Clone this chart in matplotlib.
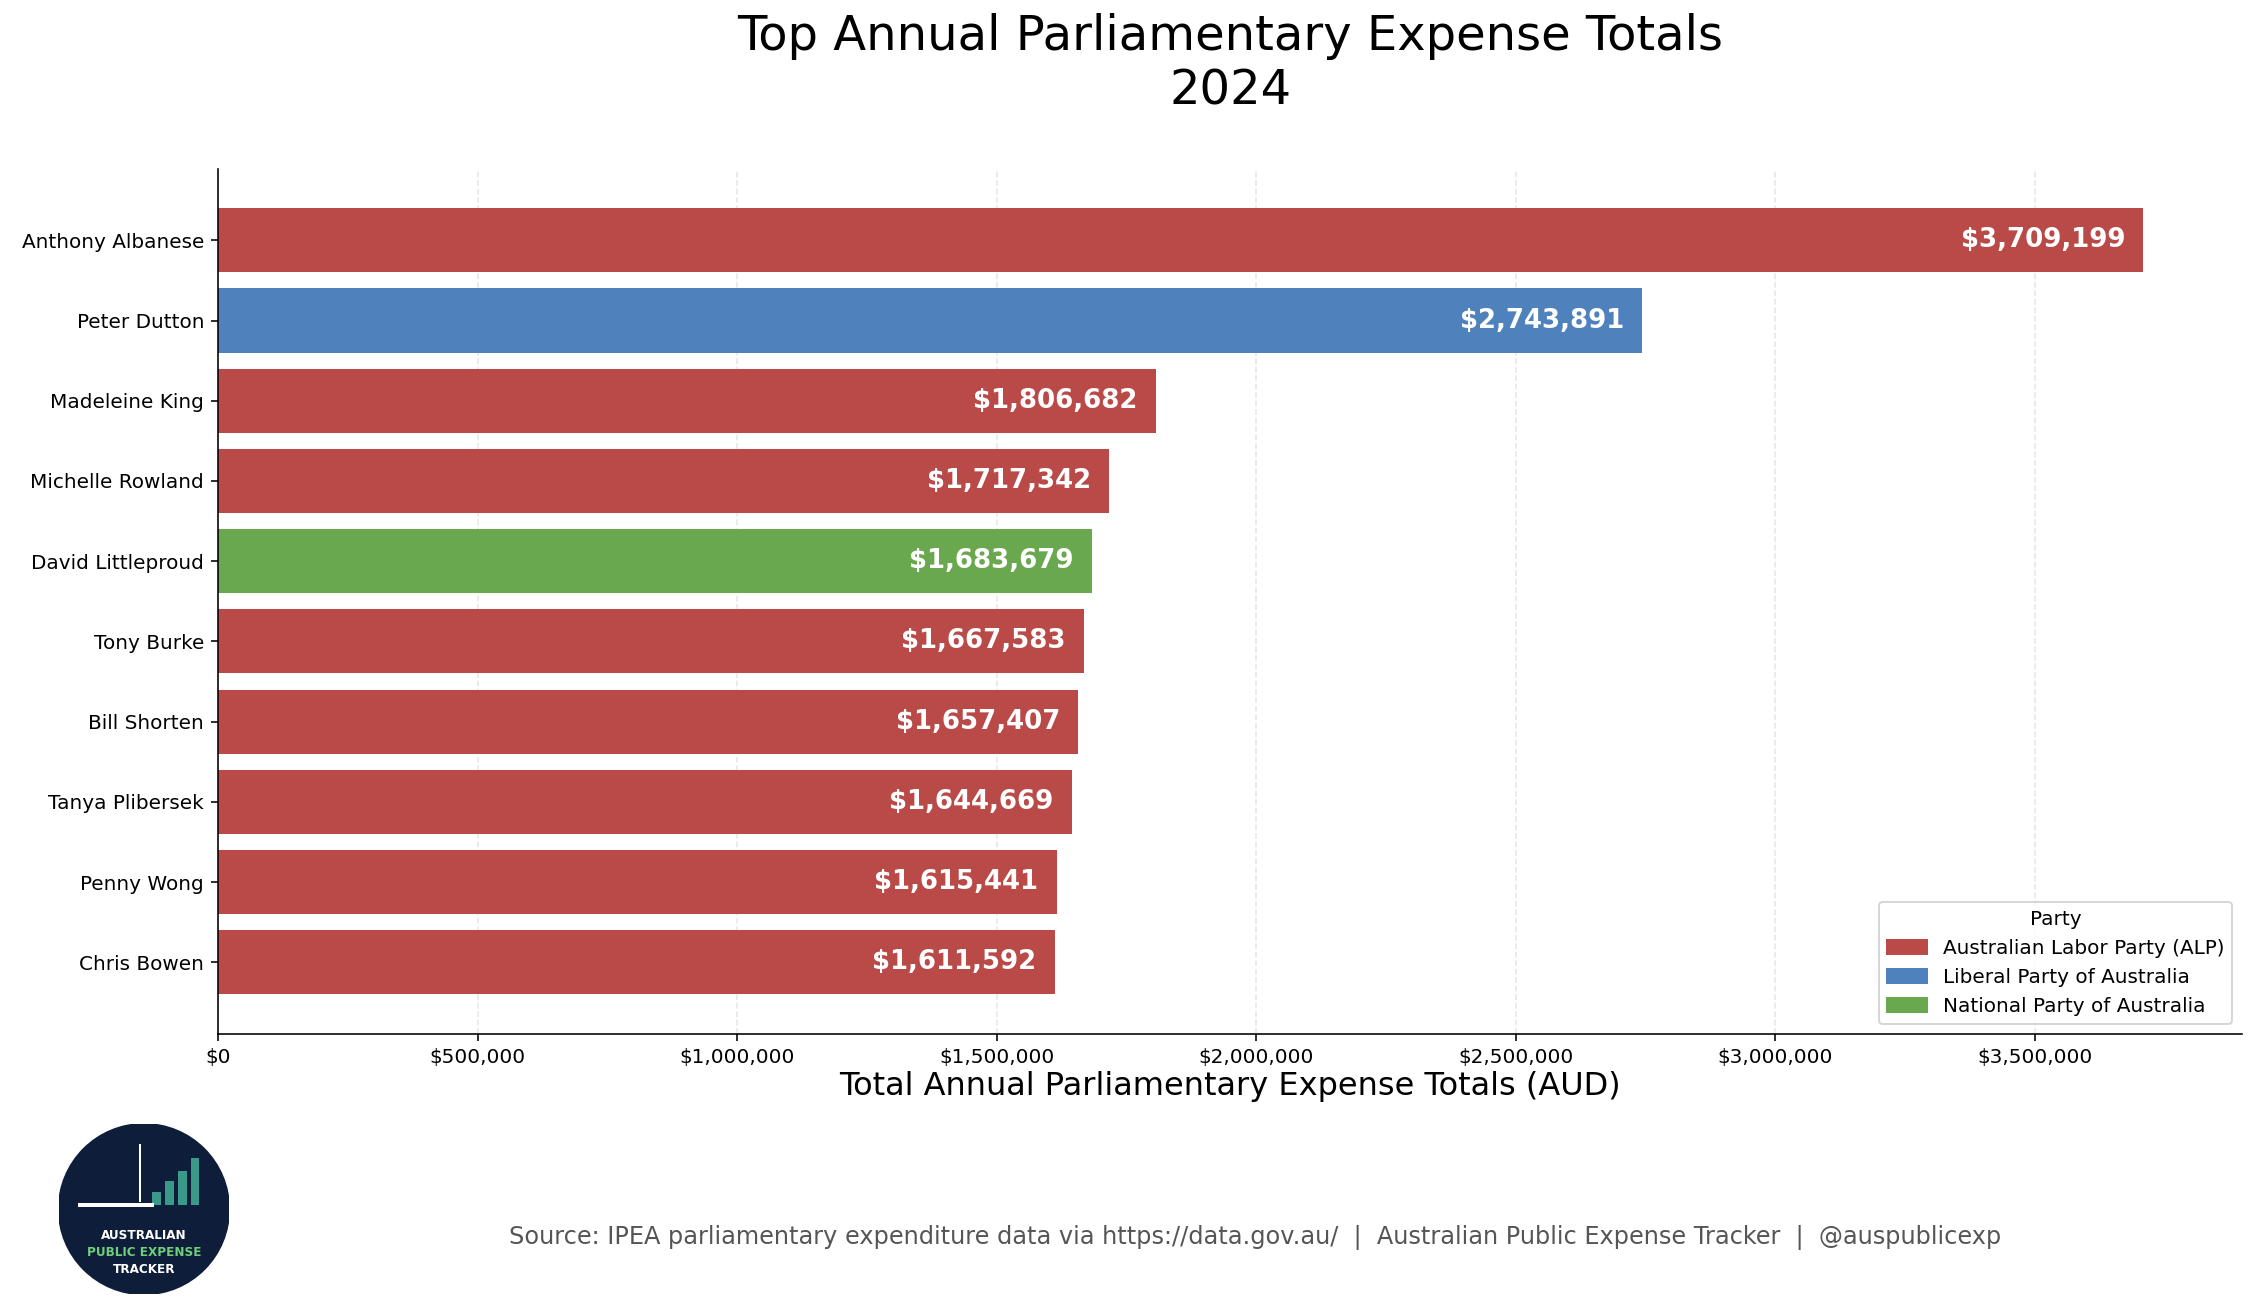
import pandas as pd
import numpy as np
import matplotlib.pyplot as plt
from matplotlib.patches import Patch, Circle

# Expense totals
data = pd.DataFrame({
    "Name": ["Anthony Albanese", "Peter Dutton", "Madeleine King", "Michelle Rowland",
             "David Littleproud", "Tony Burke", "Bill Shorten", "Tanya Plibersek",
             "Penny Wong", "Chris Bowen"],
    "Total": [3709199, 2743891, 1806682, 1717342, 1683679, 1667583, 1657407,
              1644669, 1615441, 1611592],
    "Party": ["ALP", "LIB", "ALP", "ALP", "NAT", "ALP", "ALP", "ALP", "ALP", "ALP"],
})

colors = {"ALP": "#b94a48", "LIB": "#4f81bd", "NAT": "#6aa84f"}
party_names = {"ALP": "Australian Labor Party (ALP)",
               "LIB": "Liberal Party of Australia",
               "NAT": "National Party of Australia"}

fig = plt.figure(figsize=(2249 / 144, 1310 / 144), dpi=144)
ax = fig.add_axes([0.097, 0.211, 0.9, 0.66])

index = np.arange(len(data))
ax.barh(index, data["Total"], color=[colors[p] for p in data["Party"]], height=0.8, zorder=2)
ax.invert_yaxis()
ax.set_yticks(index)
ax.set_yticklabels(data["Name"])

for i, v in enumerate(data["Total"]):
    ax.text(v - 35000, i, f"${v:,.0f}", ha="right", va="center", color="white",
            fontsize=13, fontweight="bold", zorder=3)

ax.set_xlim(0, 3900000)
ax.set_xticks(np.arange(0, 3500001, 500000))
ax.set_xticklabels([f"${x:,.0f}" for x in np.arange(0, 3500001, 500000)])
ax.grid(axis="x", linestyle="--", alpha=0.3, zorder=0)
ax.spines["top"].set_visible(False)
ax.spines["right"].set_visible(False)
ax.set_xlabel("Total Annual Parliamentary Expense Totals (AUD)", fontsize=16, labelpad=2)

handles = [Patch(color=colors[k], label=party_names[k]) for k in ["ALP", "LIB", "NAT"]]
ax.legend(handles=handles, title="Party", loc="lower right")

fig.suptitle("Top Annual Parliamentary Expense Totals\n2024", fontsize=24, x=0.547, y=0.99)

# Logo
logo = fig.add_axes([0.026, 0.012, 0.076, 0.13])
logo.set_aspect("equal")
logo.axis("off")
logo.set_xlim(-1, 1)
logo.set_ylim(-1, 1)
logo.add_patch(Circle((0, 0), 1, color="#0e1e3a"))
logo.bar([0.15, 0.3, 0.45, 0.6], [0.15, 0.28, 0.4, 0.55], width=0.1, bottom=0.05, color="#3a9a8a")
logo.plot([-0.05, -0.05], [0.1, 0.75], color="white", lw=1)
logo.plot([-0.75, 0.1], [0.05, 0.05], color="white", lw=2)
logo.text(0, -0.35, "AUSTRALIAN", color="white", ha="center", fontsize=6, fontweight="bold")
logo.text(0, -0.55, "PUBLIC EXPENSE", color="#6ecf7a", ha="center", fontsize=6, fontweight="bold")
logo.text(0, -0.75, "TRACKER", color="white", ha="center", fontsize=6, fontweight="bold")

fig.text(0.558, 0.05, "Source: IPEA parliamentary expenditure data via https://data.gov.au/  |  "
         "Australian Public Expense Tracker  |  @auspublicexp",
         ha="center", fontsize=12, color="#555555")

plt.savefig("out.png", dpi=144)
